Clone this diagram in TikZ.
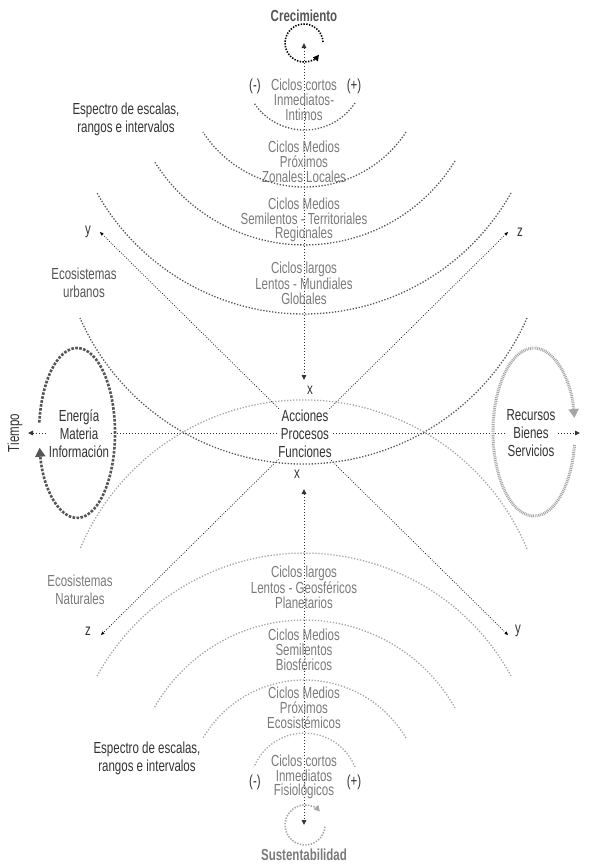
\documentclass[tikz,border=0pt]{standalone}
\usepackage{fontspec}
\setmainfont{Liberation Sans}[FakeStretch=0.72]
\usetikzlibrary{arrows.meta}
\definecolor{dark}{HTML}{333333}
\definecolor{mid}{HTML}{555555}
\definecolor{soft}{HTML}{7A7A7A}
\definecolor{pale}{HTML}{A6A6A6}
\begin{document}
\begin{tikzpicture}[x=1pt,y=-1pt,
  txt/.style={align=center,font=\fontsize{16}{18}\selectfont,text=dark,inner sep=1pt},
  cyc/.style={align=center,font=\fontsize{16}{14.8}\selectfont,text=soft,inner sep=1pt},
  axis/.style={draw=dark,line width=0.9pt,dash pattern=on 1pt off 2pt},
  diag/.style={draw=black,line width=0.7pt,dash pattern=on 0.8pt off 1.6pt},
  hi/.style={draw=mid,line width=1.3pt,dash pattern=on 1.3pt off 1.7pt},
  lo/.style={draw=pale,line width=1.3pt,dash pattern=on 1.3pt off 1.7pt},
  tip/.style={{Triangle[length=5pt,width=4.5pt]}-{Triangle[length=5pt,width=4.5pt]}},
  smalltip/.style={{Triangle[length=3.5pt,width=3pt]}-{Triangle[length=3.5pt,width=3pt]}}]
\useasboundingbox (0,0) rectangle (593,868);
\coordinate (ctop) at (304,43);
\coordinate (xtop) at (304,380);
\coordinate (xbot) at (304,489);
\coordinate (cbot) at (304,825);
\coordinate (west) at (28,433);
\coordinate (east) at (580,433);
\coordinate (ytl) at (100,232);
\coordinate (ybr) at (508,635);
\coordinate (ztr) at (508,232);
\coordinate (zbl) at (101,635);
\draw[axis,tip] (ctop) -- (xtop);
\draw[axis,tip] (xbot) -- (cbot);
\draw[axis,tip] (west) -- (east);
\draw[diag,smalltip] (ytl) -- (ybr);
\draw[diag,smalltip] (ztr) -- (zbl);
\node[txt,font=\fontsize{16}{18}\selectfont\bfseries,text=mid] (crec) at (304,16) {Crecimiento};
\node[txt,font=\fontsize{16}{18}\selectfont\bfseries,text=soft] (sust) at (304,855) {Sustentabilidad};
\node[txt] (menos1) at (255,86) {(-)};
\node[txt] (mas1) at (354,86) {(+)};
\node[txt] (menos2) at (255,782) {(-)};
\node[txt] (mas2) at (354,782) {(+)};
\node[cyc] (corto1) at (304,100) {Ciclos cortos\\Inmediatos-\\Intimos};
\node[cyc] (medio1) at (304,162) {Ciclos Medios\\Próximos\\Zonales Locales};
\node[cyc] (semi1) at (304,220) {Ciclos Medios\\Semilentos - Territoriales\\Regionales};
\node[cyc] (largo1) at (304,283) {Ciclos largos\\Lentos - Mundiales\\Globales};
\node[cyc] (largo2) at (304,587) {Ciclos largos\\Lentos - Geosféricos\\Planetarios};
\node[cyc] (semi2) at (304,650) {Ciclos Medios\\Semilentos\\Biosféricos};
\node[cyc] (medio2) at (304,708) {Ciclos Medios\\Próximos\\Ecosistémicos};
\node[cyc] (corto2) at (304,777) {Ciclos cortos\\Inmediatos\\Fisiológicos};
\node[txt] (esp1) at (126,119) {Espectro de escalas,\\rangos e intervalos};
\node[txt] (esp2) at (147,758) {Espectro de escalas,\\rangos e intervalos};
\node[txt,text=mid] (urb) at (84,283) {Ecosistemas\\urbanos};
\node[txt,text=soft] (nat) at (80,590) {Ecosistemas\\Naturales};
\node[txt] (ly1) at (88,232) {y};
\node[txt] (lz1) at (520,232) {z};
\node[txt] (lz2) at (88,631) {z};
\node[txt] (ly2) at (518,631) {y};
\node[txt] (lx1) at (310,390) {x};
\node[txt] (lx2) at (297,474) {x};
\node[txt,rotate=90] (tiempo) at (15,433) {Tiempo};
\node[txt,fill=white] (ener) at (79,434) {Energía\\Materia\\Información};
\node[txt,fill=white] (acc) at (305,434) {Acciones\\Procesos\\Funciones};
\node[txt,fill=white] (rec) at (531,433) {Recursos\\Bienes\\Servicios};
\draw[hi] (355,103) arc[start angle=33.7,end angle=146.3,radius=60.7];
\draw[hi] (406,132) arc[start angle=33.1,end angle=146.9,radius=121.2];
\draw[hi] (455,161) arc[start angle=31.7,end angle=148.3,radius=176.8];
\draw[hi] (511,193) arc[start angle=29.4,end angle=150.6,radius=237.6];
\draw[hi] (527,318) arc[start angle=23.7,end angle=156.3,radius=244.1];
\draw[lo] (527,549) arc[start angle=-22.6,end angle=-157.4,radius=242.1];
\draw[lo] (511,676) arc[start angle=-28.6,end angle=-151.4,radius=235.7];
\draw[lo] (455,708) arc[start angle=-29.4,end angle=-150.6,radius=172.7];
\draw[lo] (406,738) arc[start angle=-30.5,end angle=-149.5,radius=117.8];
\draw[lo] (355,767) arc[start angle=-22.1,end angle=-157.9,radius=54.5];
\draw[black,line width=1.6pt,dash pattern=on 1.4pt off 1.4pt,-{Triangle[length=6pt,width=6pt]}] (323,42) arc[start angle=-3,end angle=-322,radius=19];
\draw[pale,line width=1.6pt,dash pattern=on 1.4pt off 1.4pt,-{Triangle[length=6pt,width=6pt]}] (325,826.7) arc[start angle=5,end angle=318,radius=20];
\draw[mid,line width=2.6pt,dash pattern=on 2.6pt off 1.4pt,-{Triangle[length=9pt,width=10pt]}] (39.3,422.6) arc[start angle=187,end angle=530,x radius=38,y radius=85];
\draw[pale,line width=3pt,dash pattern=on 0.9pt off 0.9pt,-{Triangle[length=9pt,width=10pt]}] (574.5,445) arc[start angle=8.9,end angle=350.4,x radius=41,y radius=84];
\end{tikzpicture}
\end{document}
